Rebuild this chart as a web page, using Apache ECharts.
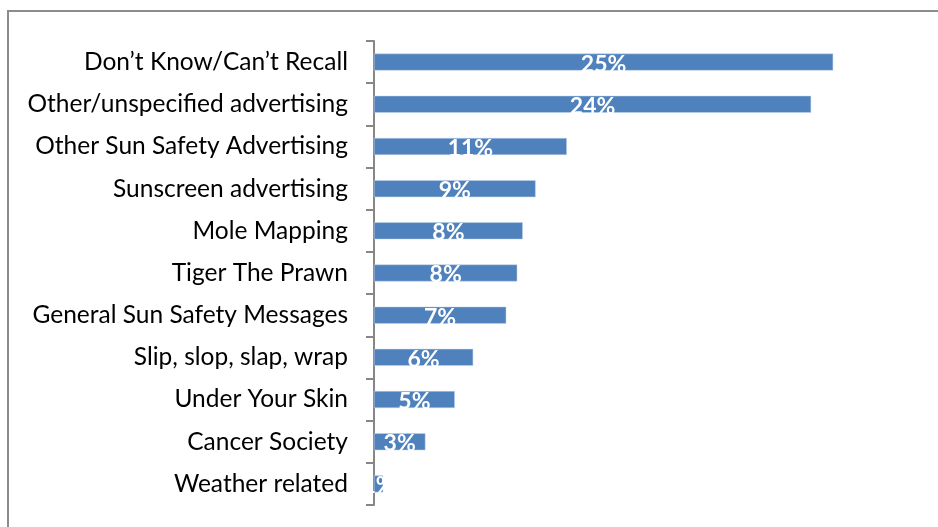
<!DOCTYPE html>
<html>
<head>
<meta charset="utf-8">
<script src="https://cdn.jsdelivr.net/npm/echarts@6/dist/echarts.min.js"></script>
<style>html,body{margin:0;padding:0;background:#fff;}#c{width:938px;height:527px;}</style>
</head>
<body>
<div id="c"></div>
<script>
const categories = [
  "Don\u2019t Know/Can\u2019t Recall",
  "Other/unspecified advertising",
  "Other Sun Safety Advertising",
  "Sunscreen advertising",
  "Mole Mapping",
  "Tiger The Prawn",
  "General Sun Safety Messages",
  "Slip, slop, slap, wrap",
  "Under Your Skin",
  "Cancer Society",
  "Weather related"
];
const values = [25.0, 23.8, 10.5, 8.8, 8.1, 7.8, 7.2, 5.4, 4.4, 2.8, 0.5];
const valueLabels = ["25%", "24%", "11%", "9%", "8%", "8%", "7%", "6%", "5%", "3%", "1%"];

const chart = echarts.init(document.getElementById('c'), null, {renderer: 'canvas'});
chart.setOption({
  animation: false,
  backgroundColor: '#ffffff',
  graphic: [{
    type: 'rect', z: -1, silent: true,
    shape: {x: 8, y: 11, width: 1000, height: 600},
    style: {fill: 'none', stroke: '#8c8c8c', lineWidth: 2}
  }],
  grid: {left: 374, top: 41, bottom: 22, width: 551, containLabel: false},
  xAxis: {
    type: 'value', min: 0, max: 30, show: false
  },
  yAxis: {
    type: 'category', data: categories, inverse: true,
    axisLine: {show: true, lineStyle: {color: '#878787', width: 2}},
    axisTick: {show: true, length: 8, alignWithLabel: false, lineStyle: {color: '#878787', width: 2}},
    axisLabel: {color: '#000000', fontFamily: 'Lato', fontSize: 24.5, margin: 26}
  },
  series: [{
    type: 'bar', data: values, barWidth: 17,
    itemStyle: {color: '#4f81bd', borderColor: '#c5d5ea', borderWidth: 0.5},
    label: {
      show: true, position: 'inside', offset: [0, 2],
      formatter: p => valueLabels[p.dataIndex],
      color: '#ffffff', fontFamily: 'Lato', fontWeight: 'bold', fontSize: 23
    }
  }]
});
</script>
</body>
</html>
